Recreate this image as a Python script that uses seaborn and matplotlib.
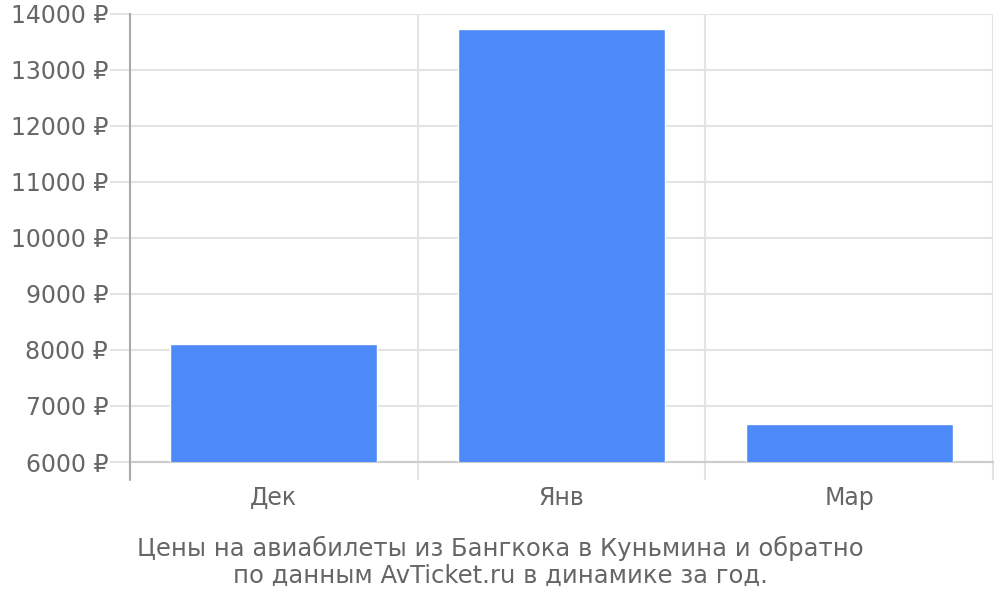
import numpy as np
import pandas as pd
import seaborn as sns
import matplotlib
matplotlib.use("Agg")
import matplotlib.pyplot as plt

months = ["Дек", "Янв", "Мар"]
prices = [8100, 13725, 6670]
y_ticks = list(range(6000, 14001, 1000))
caption = "Цены на авиабилеты из Бангкока в Куньмина и обратно\nпо данным AvTicket.ru в динамике за год."

df = pd.DataFrame({"month": months, "price": prices})

sns.set_style("white")
plt.rcParams["font.family"] = ["DejaVu Sans"]

text_col = "#666666"
grid_col = "#e3e3e3"
px = 72 / 100  # points per pixel at dpi 100

fig = plt.figure(figsize=(10, 6), dpi=100)
ax = fig.add_axes([0.13, 0.23, 0.863, 0.7467])

sns.barplot(data=df, x="month", y="price", color="#4d89f9", width=0.72,
            saturation=1, ax=ax, zorder=3)

ax.set_xlim(-0.5, 2.5)
ax.set_ylim(6000, 14000)
ax.set_yticks(y_ticks)
ax.set_yticklabels([f"{v} ₽" for v in y_ticks])
ax.set_xlabel("")
ax.set_ylabel("")

# horizontal grid + short grey ticks to the left
ax.yaxis.grid(True, color=grid_col, linewidth=1.5, zorder=0)
ax.tick_params(axis="y", left=True, length=20 * px, width=1.5, color=grid_col,
               pad=2 * px, labelsize=17, labelcolor=text_col)

# category boundaries as vertical grid lines that run below the axis
ax.set_xticks([-0.5, 0.5, 1.5, 2.5], minor=True)
ax.xaxis.grid(True, which="minor", color=grid_col, linewidth=1.5, zorder=0)
ax.tick_params(axis="x", which="minor", bottom=True, length=18 * px, width=1.5,
               color=grid_col)
ax.tick_params(axis="x", which="major", bottom=False, length=0, pad=17,
               labelsize=17, labelcolor=text_col)

for s in ["top", "right"]:
    ax.spines[s].set_visible(False)
ax.spines["left"].set_color("#aaaaaa")
ax.spines["left"].set_linewidth(1.5)
ax.spines["bottom"].set_color("#cccccc")
ax.spines["bottom"].set_linewidth(1.5)

# extend the left spine downwards like the tick marks
ax.plot([-0.5, -0.5], [6000, 6000 - 18 / 56 * 1000], color="#aaaaaa",
        linewidth=1.5, clip_on=False, zorder=4)

fig.text(0.5, 0.064, caption, ha="center", va="center", fontsize=17.5,
         color=text_col, linespacing=1.15)

fig.savefig("out.png", dpi=100)
